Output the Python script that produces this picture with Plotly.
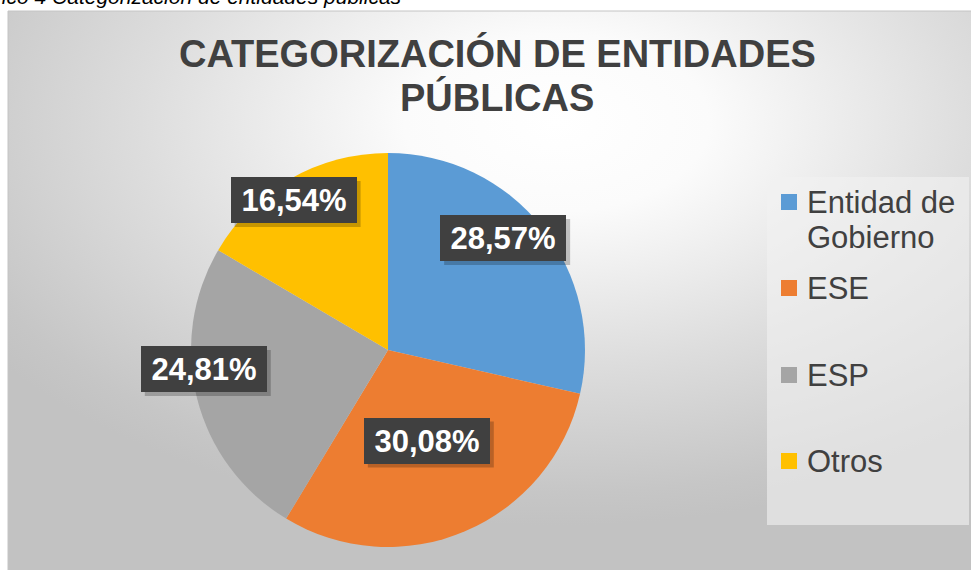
import math, base64
import plotly.graph_objects as go

# ---- data ----
categories = ["Entidad de Gobierno", "ESE", "ESP", "Otros"]
legend_lines = [["Entidad de", "Gobierno"], ["ESE"], ["ESP"], ["Otros"]]
values = [28.57, 30.08, 24.81, 16.54]
label_texts = ["28,57%", "30,08%", "24,81%", "16,54%"]
colors = ["#5B9BD5", "#ED7D31", "#A5A5A5", "#FFC000"]
title_lines = ["CATEGORIZACIÓN DE ENTIDADES", "PÚBLICAS"]
caption = "Gráfico 4 Categorización de entidades públicas"

# ---- layout geometry (styles) ----
W, H = 971, 570
CX, CY, R = 388, 350, 197          # pie centre / radius in px
label_rfrac = [0.815, 0.50, 0.94, 0.90]   # Excel "best fit" radial position
label_dang = [-5.6, -0.2, 8.3, -2.4]      # angular nudges (deg)
BOX_W, BOX_H = 126, 46
legend_y_px = [[202, 238], [288], [375], [461]]

def px(x):
    return x / W

def py(y):
    return 1 - y / H

# background gradient as SVG image
svg = (
    "<svg xmlns='http://www.w3.org/2000/svg' width='963' height='559' viewBox='0 0 963 559' preserveAspectRatio='none'>"
    "<defs><radialGradient id='g' cx='0.57' cy='0.2' r='0.72'>"
    "<stop offset='0' stop-color='#ffffff'/>"
    "<stop offset='0.22' stop-color='#fbfbfb'/>"
    "<stop offset='0.6' stop-color='#dddddd'/>"
    "<stop offset='0.92' stop-color='#c6c6c6'/>"
    "<stop offset='1' stop-color='#c2c2c2'/>"
    "</radialGradient></defs>"
    "<rect x='0' y='0' width='963' height='559' fill='url(#g)'/></svg>"
)
src = "data:image/svg+xml;base64," + base64.b64encode(svg.encode()).decode()

fig = go.Figure()
fig.add_trace(go.Pie(
    labels=categories,
    values=values,
    marker=dict(colors=colors, line=dict(width=0)),
    sort=False,
    direction="clockwise",
    rotation=0,
    textinfo="none",
    hoverinfo="label+percent",
    showlegend=False,
    domain=dict(x=[px(CX - R), px(CX + R)], y=[py(CY + R), py(CY - R)]),
))

annotations = []
shapes = []
# caption (partly cut off at top-left, as in the source)
annotations.append(dict(
    text=caption, x=px(404), y=py(10), xref="paper", yref="paper",
    xanchor="right", yanchor="bottom", showarrow=False,
    font=dict(family="Liberation Sans", size=21, color="#000000", style="italic"),
))
# title
for i, (line, ypx) in enumerate(zip(title_lines, [54, 98])):
    annotations.append(dict(
        text="<b>%s</b>" % line, x=px(497), y=py(ypx), xref="paper", yref="paper",
        xanchor="center", yanchor="middle", showarrow=False,
        font=dict(family="Liberation Sans", size=38, color="#404040"),
    ))

# data labels from values
total = sum(values)
cum = 0.0
for v, t, rf, da in zip(values, label_texts, label_rfrac, label_dang):
    mid = (cum + v / 2) / total * 360 + da
    cum += v
    r = R * rf
    lx = CX + r * math.sin(math.radians(mid))
    ly = CY - r * math.cos(math.radians(mid))
    # soft shadow behind the label box
    shapes.append(dict(type="rect", xref="paper", yref="paper",
                       x0=px(lx - BOX_W / 2 + 4), x1=px(lx + BOX_W / 2 + 4),
                       y0=py(ly + BOX_H / 2 + 4), y1=py(ly - BOX_H / 2 + 4),
                       line=dict(width=0), fillcolor="rgba(0,0,0,0.22)", layer="above"))
    annotations.append(dict(
        text="<b>%s</b>" % t, x=px(lx), y=py(ly), xref="paper", yref="paper",
        xanchor="center", yanchor="middle", showarrow=False,
        font=dict(family="Liberation Sans", size=31, color="#ffffff"),
        bgcolor="#404040", bordercolor="#404040", borderwidth=1,
        borderpad=3, width=BOX_W - 8, height=BOX_H - 8,
    ))

# chart frame
shapes.append(dict(type="rect", xref="paper", yref="paper",
                   x0=px(8), x1=px(975), y0=py(575), y1=py(11),
                   line=dict(color="#c4c4c4", width=1), fillcolor="rgba(0,0,0,0)", layer="below"))
# legend box
shapes.append(dict(type="rect", xref="paper", yref="paper",
                   x0=px(767), x1=px(969), y0=py(525), y1=py(177),
                   line=dict(width=0), fillcolor="rgba(242,242,242,0.6)", layer="below"))
# legend entries
for lines, ys, col in zip(legend_lines, legend_y_px, colors):
    shapes.append(dict(type="rect", xref="paper", yref="paper",
                       x0=px(781), x1=px(797), y0=py(ys[0] + 8), y1=py(ys[0] - 8),
                       line=dict(width=0), fillcolor=col))
    for ln, yy in zip(lines, ys):
        annotations.append(dict(
            text=ln, x=px(805), y=py(yy), xref="paper", yref="paper",
            xanchor="left", yanchor="middle", showarrow=False,
            font=dict(family="Liberation Sans", size=31, color="#404040"),
        ))

fig.update_layout(
    width=W, height=H,
    margin=dict(l=0, r=0, t=0, b=0),
    paper_bgcolor="#ffffff",
    plot_bgcolor="rgba(0,0,0,0)",
    annotations=annotations,
    shapes=shapes,
    images=[dict(source=src, xref="paper", yref="paper", x=px(8), y=py(11),
                 sizex=px(971 - 8), sizey=(570 - 11) / H, xanchor="left", yanchor="top",
                 sizing="stretch", layer="below")],
)

fig.write_html("out.html", config={"displayModeBar": False},
               post_script="document.body.style.margin='0';")
